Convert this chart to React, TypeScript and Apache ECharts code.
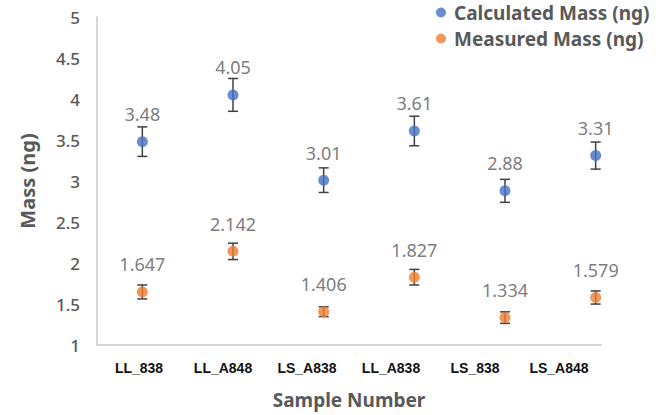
import React, { useEffect, useRef } from "react";
import * as echarts from "echarts";

// Sample identifiers along the x axis
const categories = ["LL_838", "LL_A848", "LS_A838", "LL_A838", "LS_838", "LS_A848"];

// Mass values (ng) per sample
const calculatedMass = [3.48, 4.05, 3.01, 3.61, 2.88, 3.31];
const measuredMass = [1.647, 2.142, 1.406, 1.827, 1.334, 1.579];

// Symmetric error (± ng) for each point
const calculatedError = [0.18, 0.2, 0.15, 0.18, 0.14, 0.165];
const measuredError = [0.085, 0.1, 0.06, 0.095, 0.07, 0.08];

// Y axis range and step
const yMin = 1;
const yMax = 5;
const yStep = 0.5;

const seriesNames = ["Calculated Mass (ng)", "Measured Mass (ng)"];
const BLUE = "#4472C4";
const ORANGE = "#ED7D31";
const GREY_TEXT = "#595959";
const AXIS_GREY = "#C8C8C8";
const ERR_COLOR = "#404040";

function errorBarData(values: number[], errors: number[]) {
  return values.map((v, i) => [i, v - errors[i], v + errors[i]]);
}

function renderErrorBar(params: any, api: any) {
  const x = api.value(0);
  const lo = api.coord([x, api.value(1)]);
  const hi = api.coord([x, api.value(2)]);
  const hw = 5;
  const style = { stroke: ERR_COLOR, lineWidth: 1.5 };
  return {
    type: "group",
    children: [
      { type: "line", shape: { x1: hi[0], y1: hi[1], x2: lo[0], y2: lo[1] }, style },
      { type: "line", shape: { x1: hi[0] - hw, y1: hi[1], x2: hi[0] + hw, y2: hi[1] }, style },
      { type: "line", shape: { x1: lo[0] - hw, y1: lo[1], x2: lo[0] + hw, y2: lo[1] }, style },
    ],
  };
}

export default function App() {
  const ref = useRef<HTMLDivElement>(null);

  useEffect(() => {
    document.body.style.margin = "0";
    if (!ref.current) return;
    const chart = echarts.init(ref.current, null, { renderer: "svg" });

    const labelStyle = {
      show: true,
      position: "top" as const,
      distance: 13,
      fontSize: 18,
      color: GREY_TEXT,
      fontFamily: "Noto Sans",
    };

    chart.setOption({
      animation: false,
      backgroundColor: "#ffffff",
      legend: {
        data: seriesNames,
        orient: "vertical",
        left: 436,
        top: 3,
        padding: 0,
        icon: "circle",
        itemWidth: 10,
        itemHeight: 10,
        itemGap: 7,
        textStyle: {
          fontSize: 19,
          fontWeight: "bold",
          color: GREY_TEXT,
          fontFamily: "Noto Sans",
          padding: [0, 0, 0, 3],
        },
      },
      grid: [
        { left: 97, top: 17, width: 504, height: 328 },
        { left: 97, top: 17, width: 544, height: 328 },
      ],
      xAxis: [
        {
          type: "category",
          gridIndex: 0,
          data: categories,
          axisLine: { lineStyle: { color: AXIS_GREY, width: 1.5 } },
          axisTick: { show: false },
          axisLabel: {
            margin: 16,
            fontSize: 14,
            fontWeight: "bold",
            color: "#111111",
            fontFamily: "Liberation Sans",
          },
          name: "Sample Number",
          nameLocation: "middle",
          nameGap: 45,
          nameTextStyle: {
            fontSize: 19,
            fontWeight: "bold",
            color: GREY_TEXT,
            fontFamily: "Noto Sans",
          },
        },
        {
          type: "category",
          gridIndex: 1,
          data: categories,
          show: false,
        },
      ],
      yAxis: [
        {
          type: "value",
          gridIndex: 0,
          min: yMin,
          max: yMax,
          interval: yStep,
          splitLine: { show: false },
          axisLine: { show: true, lineStyle: { color: AXIS_GREY, width: 1.5 } },
          axisTick: { show: false },
          axisLabel: {
            margin: 17,
            fontSize: 17,
            color: GREY_TEXT,
            fontWeight: 500,
            fontFamily: "Noto Sans",
          },
          name: "Mass (ng)",
          nameLocation: "middle",
          nameGap: 60,
          nameTextStyle: {
            fontSize: 20,
            fontWeight: "bold",
            color: GREY_TEXT,
            fontFamily: "Noto Sans",
          },
        },
        {
          type: "value",
          gridIndex: 1,
          min: yMin,
          max: yMax,
          interval: yStep,
          show: false,
        },
      ],
      series: [
        {
          type: "custom",
          xAxisIndex: 1,
          yAxisIndex: 1,
          renderItem: renderErrorBar,
          encode: { x: 0, y: [1, 2] },
          data: errorBarData(calculatedMass, calculatedError),
          z: 1,
          silent: true,
        },
        {
          type: "custom",
          xAxisIndex: 1,
          yAxisIndex: 1,
          renderItem: renderErrorBar,
          encode: { x: 0, y: [1, 2] },
          data: errorBarData(measuredMass, measuredError),
          z: 1,
          silent: true,
        },
        {
          name: seriesNames[0],
          type: "scatter",
          xAxisIndex: 1,
          yAxisIndex: 1,
          data: calculatedMass,
          symbolSize: 11,
          itemStyle: { color: BLUE },
          label: labelStyle,
          z: 3,
        },
        {
          name: seriesNames[1],
          type: "scatter",
          xAxisIndex: 1,
          yAxisIndex: 1,
          data: measuredMass,
          symbolSize: 11,
          itemStyle: { color: ORANGE },
          label: labelStyle,
          z: 3,
        },
      ],
    });

    return () => chart.dispose();
  }, []);

  return <div ref={ref} style={{ width: 667, height: 415 }} />;
}
